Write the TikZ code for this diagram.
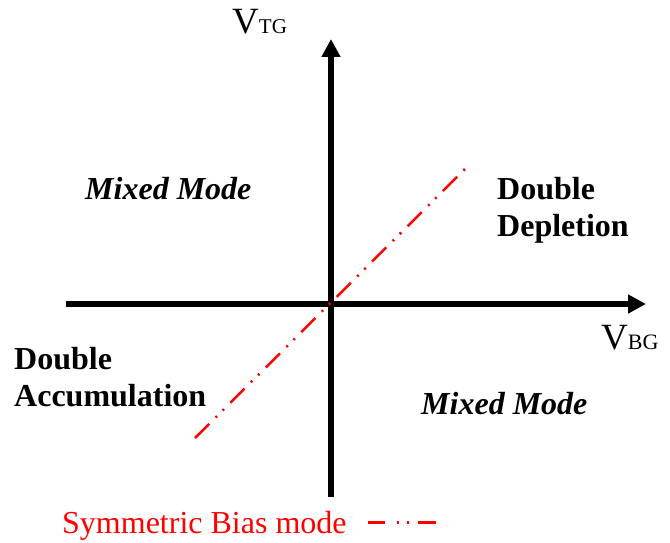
\documentclass[tikz,border=0pt]{standalone}
\usepackage{fontspec}
\setmainfont{Liberation Serif}
\usetikzlibrary{arrows.meta}
\definecolor{symred}{RGB}{255,0,0}
\begin{document}
\begin{tikzpicture}[x=1pt,y=-1pt,
  axis/.style={line width=5.5pt,-{Triangle[length=18pt,width=18pt]}},
  sym/.style={symred,line width=2.5pt,dash pattern=on 20pt off 9pt on 2pt off 8pt on 2pt off 9pt},
  region/.style={inner sep=0pt,font=\fontsize{32}{37}\selectfont\bfseries,align=left},
  mixed/.style={inner sep=0pt,anchor=base west,font=\fontsize{32}{37}\selectfont\bfseries\itshape},
  axlabel/.style={inner sep=0pt,anchor=base west,font=\fontsize{37}{40}\selectfont}]
\useasboundingbox (0,0) rectangle (670,543);
% axes
\coordinate (xs) at (66,304);
\coordinate (xe) at (646,304);
\coordinate (ys) at (331,497);
\coordinate (ye) at (331,39);
\draw[axis] (xs) -- (xe);
\draw[axis] (ys) -- (ye);
% symmetric bias line
\coordinate (ds) at (195,438);
\coordinate (de) at (467,167);
\draw[sym] (ds) -- (de);
% axis labels
\node[axlabel] (vtg) at (232,34) {V{\fontsize{21}{22}\selectfont TG}};
\node[axlabel] (vbg) at (601,349) {V{\fontsize{22}{23}\selectfont BG}};
% region labels
\node[mixed] (mm1) at (85,199) {Mixed Mode};
\node[mixed] (mm2) at (421,414) {Mixed Mode};
\node[region,anchor=north west] (dd) at (497,177) {Double\\Depletion};
\node[region,anchor=north west] (da) at (14,347) {Double\\Accumulation};
% legend
\node[inner sep=0pt,anchor=base west,text=symred,font=\fontsize{32}{37}\selectfont] (leg) at (62,533) {Symmetric Bias mode};
\coordinate (ls) at (368,522);
\coordinate (le) at (436,522);
\draw[symred,line width=3pt,dash pattern=on 17pt off 12pt on 2pt off 8pt on 2pt off 9pt on 20pt] (ls) -- (le);
\end{tikzpicture}
\end{document}
